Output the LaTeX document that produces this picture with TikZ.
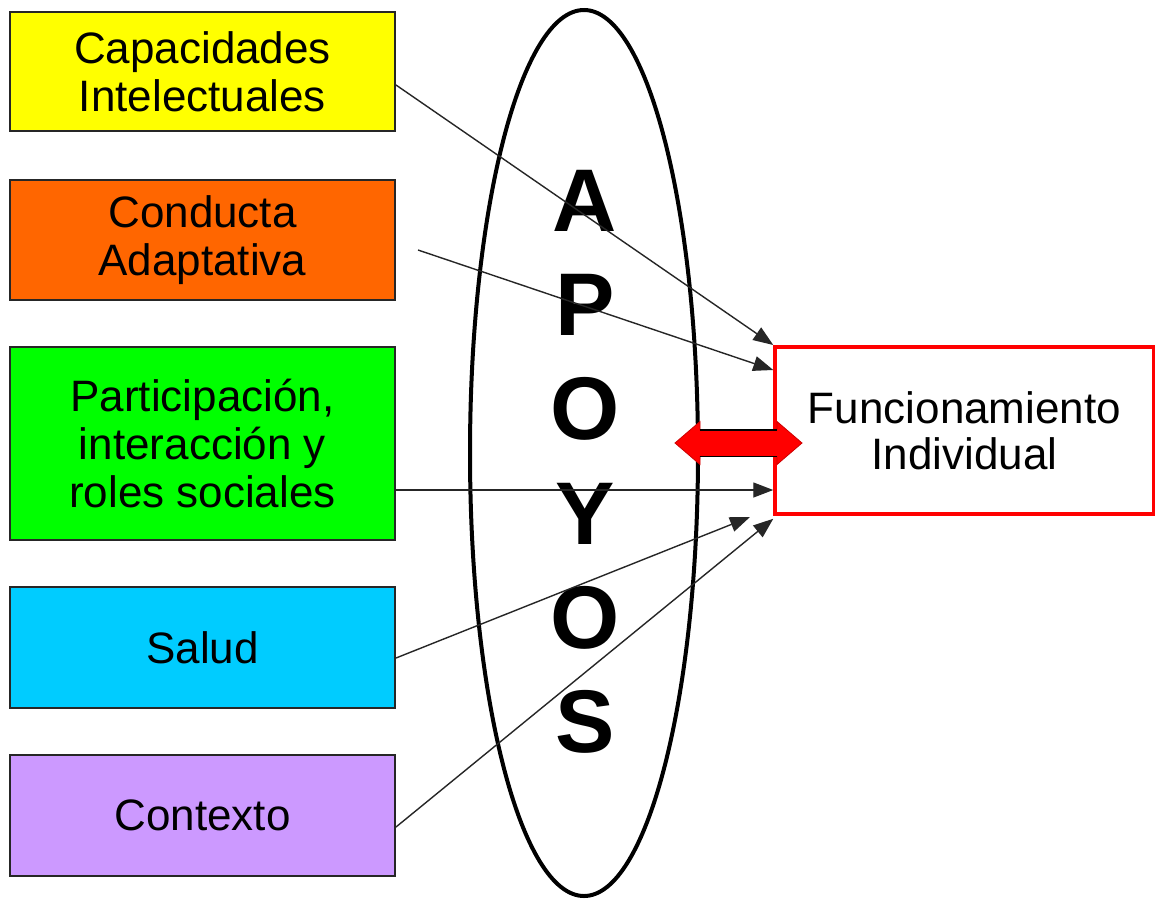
\documentclass[tikz,border=0pt]{standalone}
\usepackage{fontspec}
\setmainfont{Liberation Sans}
\usetikzlibrary{arrows.meta,shapes.geometric}
\definecolor{cYel}{HTML}{FFFF00}
\definecolor{cOra}{HTML}{FF6600}
\definecolor{cGre}{HTML}{00FF00}
\definecolor{cCya}{HTML}{00CCFF}
\definecolor{cPur}{HTML}{CC99FF}
\begin{document}
\begin{tikzpicture}[x=1pt,y=-1pt,
  box/.style={draw=black!85,line width=2pt,minimum width=385pt,align=center,inner sep=0pt,
    font=\fontsize{44}{48}\selectfont},
  link/.style={draw=black!85,line width=1.4pt,-{Triangle[length=20pt,width=15pt]}},
  letter/.style={font=\fontsize{89}{89}\bfseries\selectfont,anchor=base,inner sep=0pt},
  funbox/.style={draw=red,line width=3.5pt,fill=white,minimum width=379pt,minimum height=167pt,
    align=center,inner sep=0pt,font=\fontsize{44}{46}\selectfont}]
\useasboundingbox (0,0) rectangle (1155,900);
\fill[white] (0,0) rectangle (1155,900);

\node[box,fill=cYel,minimum height=119pt] (cap) at (202.5,71.5) {Capacidades\\Intelectuales};
\node[box,fill=cOra,minimum height=120pt] (cond) at (202.5,240) {Conducta\\Adaptativa};
\node[box,fill=cGre,minimum height=193pt] (part) at (202.5,443.5) {Participación,\\interacción y\\roles sociales};
\node[box,fill=cCya,minimum height=121pt] (sal) at (202.5,647.5) {Salud};
\node[box,fill=cPur,minimum height=121pt] (ctx) at (202.5,815.5) {Contexto};

\node[draw,ellipse,line width=4pt,minimum width=228pt,minimum height=886pt,inner sep=0pt] (apoyos) at (584,453) {};

\node[letter] (l1) at (585,231) {A};
\node[letter] (l2) at (585,335) {P};
\node[letter] (l3) at (585,439) {O};
\node[letter] (l4) at (585,544) {Y};
\node[letter] (l5) at (585,648) {O};
\node[letter] (l6) at (585,752) {S};

\node[funbox] (fun) at (964.5,430.5) {Funcionamiento\\Individual};

\coordinate (c2s) at (418,250);
\coordinate (c4e) at (750,517);

\draw[link] ([yshift=-13.5pt]cap.east) -- ([yshift=85.5pt]fun.west);
\draw[link] (c2s) -- ([yshift=60.5pt]fun.west);
\draw[link] ([yshift=-46.5pt]part.east) -- ([yshift=-59.5pt]fun.west);
\draw[link] ([yshift=-10.5pt]sal.east) -- (c4e);
\draw[link] ([yshift=-11.5pt]ctx.east) -- ([yshift=-3pt]fun.south west);

\filldraw[fill=red,draw=red!80!black,line width=0.8pt]
  (675,443) -- (700,421.5) -- (700,430) -- (777,430) -- (777,421.5) -- (802,443)
  -- (777,464.5) -- (777,456.5) -- (700,456.5) -- (700,464.5) -- cycle;
\draw[line width=1.5pt] (700,430) -- (777,430);
\draw[line width=1.5pt] (700,456.5) -- (777,456.5);
\end{tikzpicture}
\end{document}
